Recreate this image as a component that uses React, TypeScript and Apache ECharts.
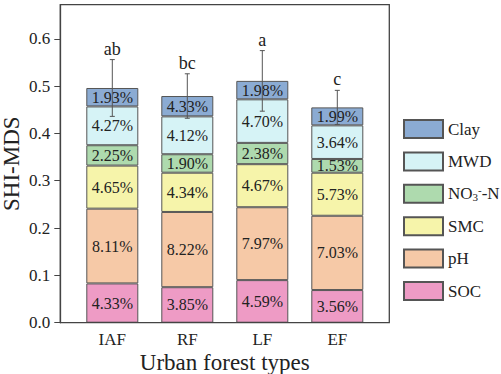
import React, { useEffect, useRef } from "react";
import * as echarts from "echarts";

const categories = ["IAF", "RF", "LF", "EF"];
const socValues = [0.083, 0.075, 0.09, 0.069];
const phValues = [0.158, 0.159, 0.154, 0.157];
const smcValues = [0.091, 0.083, 0.091, 0.091];
const no3Values = [0.043, 0.039, 0.045, 0.029];
const mwdValues = [0.082, 0.08, 0.092, 0.071];
const clayValues = [0.039, 0.043, 0.039, 0.038];

const socPct = ["4.33%", "3.85%", "4.59%", "3.56%"];
const phPct = ["8.11%", "8.22%", "7.97%", "7.03%"];
const smcPct = ["4.65%", "4.34%", "4.67%", "5.73%"];
const no3Pct = ["2.25%", "1.90%", "2.38%", "1.53%"];
const mwdPct = ["4.27%", "4.12%", "4.70%", "3.64%"];
const clayPct = ["1.93%", "4.33%", "1.98%", "1.99%"];

const errorValues = [0.06, 0.047, 0.064, 0.036];
const letters = ["ab", "bc", "a", "c"];

const FONT = "Liberation Serif, Times New Roman, serif";
const Y_MAX = 0.672;

export default function App() {
  const ref = useRef<HTMLDivElement>(null);
  useEffect(() => {
    document.body.style.margin = "0";
    const chart = echarts.init(ref.current!, null, { renderer: "svg" });
    const segs = [
      { name: "SOC", data: socValues, pct: socPct, color: "#EE9BC5" },
      { name: "pH", data: phValues, pct: phPct, color: "#F6C9A7" },
      { name: "SMC", data: smcValues, pct: smcPct, color: "#F6F4AA" },
      { name: "NO3-N", data: no3Values, pct: no3Pct, color: "#AEDAAE" },
      { name: "MWD", data: mwdValues, pct: mwdPct, color: "#D6F3F6" },
      { name: "Clay", data: clayValues, pct: clayPct, color: "#8BABD3" },
    ];
    const totals = categories.map((_, i) =>
      segs.reduce((s, sg) => s + sg.data[i], 0)
    );
    const barSeries = segs.map((sg) => ({
      name: sg.name,
      type: "bar",
      stack: "total",
      xAxisIndex: 1,
      yAxisIndex: 1,
      barWidth: 52,
      data: sg.data.map((v, i) => ({
        value: v,
        label: { formatter: sg.pct[i] },
      })),
      itemStyle: { color: sg.color, borderColor: "#555", borderWidth: 1 },
      label: {
        show: true,
        position: "inside",
        color: "#222",
        fontSize: 16,
        fontFamily: FONT,
      },
    }));
    const errSeries = {
      type: "custom",
      xAxisIndex: 1,
      yAxisIndex: 1,
      z: 10,
      clip: false,
      data: categories.map((_, i) => [
        i,
        totals[i] - errorValues[i],
        totals[i] + errorValues[i],
        i,
      ]),
      renderItem: (params: any, api: any) => {
        const x = api.value(0);
        const lo = api.coord([x, api.value(1)]);
        const hi = api.coord([x, api.value(2)]);
        const idx = api.value(3);
        const cw = 2.5;
        const ls = { stroke: "#555", lineWidth: 1 };
        return {
          type: "group",
          children: [
            { type: "line", shape: { x1: lo[0], y1: lo[1], x2: hi[0], y2: hi[1] }, style: ls },
            { type: "line", shape: { x1: hi[0] - cw, y1: hi[1], x2: hi[0] + cw, y2: hi[1] }, style: ls },
            { type: "line", shape: { x1: lo[0] - cw, y1: lo[1], x2: lo[0] + cw, y2: lo[1] }, style: ls },
            {
              type: "text",
              style: {
                text: letters[idx],
                x: hi[0],
                y: hi[1] - 2,
                textAlign: "center",
                textVerticalAlign: "bottom",
                fontSize: 18,
                fontFamily: FONT,
                fill: "#222",
              },
            },
          ],
        };
      },
    };
    chart.setOption({
      animation: false,
      textStyle: { fontFamily: FONT },
      grid: [
        { left: 60.3, right: 111.7, top: 4.7, bottom: 51.3, containLabel: false, outerBoundsMode: "none" },
        { left: 74.8, right: 126.2, top: 4.7, bottom: 51.3, containLabel: false, outerBoundsMode: "none" },
      ],
      xAxis: [
        { gridIndex: 0, type: "value", min: 0, max: 1, show: false },
        {
          gridIndex: 1,
          type: "category",
          data: categories,
          axisLine: { show: false },
          axisTick: { show: false },
          splitLine: { show: false },
          axisLabel: { color: "#222", fontSize: 17, fontFamily: FONT, margin: 8 },
          name: "Urban forest types",
          nameLocation: "middle",
          nameGap: 28,
          nameMoveOverlap: false,
          nameTextStyle: { color: "#222", fontSize: 23, fontFamily: FONT },
        },
      ],
      yAxis: [
        {
          gridIndex: 0,
          type: "value",
          min: 0,
          max: Y_MAX,
          interval: 0.1,
          splitLine: { show: false },
          axisLine: { show: true, lineStyle: { color: "#444", width: 1.3 } },
          axisTick: { show: true, length: 6, lineStyle: { color: "#444" } },
          axisLabel: {
            showMaxLabel: false,
            formatter: (v: number) => v.toFixed(1),
            color: "#222",
            fontSize: 17,
            fontFamily: FONT,
            margin: 10,
          },
          name: "SHI-MDS",
          nameLocation: "middle",
          nameGap: 37,
          nameMoveOverlap: false,
          nameTextStyle: { color: "#222", fontSize: 23, fontFamily: FONT },
        },
        { gridIndex: 1, type: "value", min: 0, max: Y_MAX, show: false, splitLine: { show: false } },
      ],
      legend: {
        orient: "vertical",
        left: 403,
        top: 119,
        padding: 0,
        itemWidth: 39,
        itemHeight: 18,
        itemGap: 12.4,
        icon: "rect",
        data: ["Clay", "MWD", "NO3-N", "SMC", "pH", "SOC"],
        formatter: (n: string) => (n === "NO3-N" ? "NO{sub|3}{sup|-}-N" : n),
        textStyle: {
          color: "#222",
          fontSize: 17,
          fontFamily: FONT,
          lineHeight: 18,
          rich: {
            sub: { fontSize: 11, fontFamily: FONT, color: "#222", verticalAlign: "bottom", lineHeight: 18, padding: [8, 0, 0, 0] },
            sup: { fontSize: 11, fontFamily: FONT, color: "#222", verticalAlign: "top", lineHeight: 18, padding: [0, 0, 8, 0] },
          },
        },
      },
      graphic: [
        {
          type: "rect",
          shape: { x: 60.3, y: 4.7, width: 329, height: 318 },
          style: { fill: "none", stroke: "#444", lineWidth: 1.3 },
          z: 100,
          silent: true,
        },
      ],
      series: [...barSeries, errSeries],
    });
    return () => chart.dispose();
  }, []);
  return (
    <div
      ref={ref}
      style={{ position: "absolute", left: 0, top: 0, width: 501, height: 374 }}
    />
  );
}
